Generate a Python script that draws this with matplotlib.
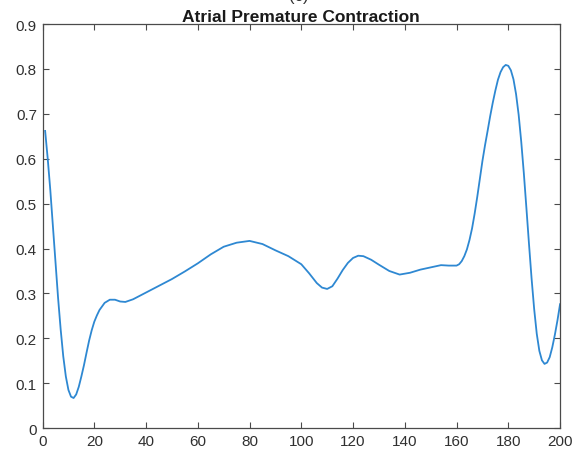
import matplotlib
matplotlib.use('Agg')
import matplotlib.pyplot as plt

# sample index and amplitude of the beat
sample_idx = [1, 2, 3, 4, 5, 6, 7, 8, 9, 10, 11, 12, 13, 14, 15, 16, 17, 18, 19, 20,
              21, 22, 24, 26, 28, 30, 32, 35, 40, 45, 50, 55, 60, 65, 70, 75, 80, 85, 90,
              95, 100, 103, 106, 108, 110, 112, 114, 116, 118, 120, 122, 124, 127, 130,
              134, 138, 142, 146, 150, 154, 157, 160, 161, 162, 163, 164, 165, 166, 167,
              168, 169, 170, 171, 172, 173, 174, 175, 176, 177, 178, 179, 180, 181, 182,
              183, 184, 185, 186, 187, 188, 189, 190, 191, 192, 193, 194, 195, 196, 197,
              198, 199, 200]
amplitude = [0.662, 0.60, 0.53, 0.45, 0.37, 0.29, 0.22, 0.16, 0.115, 0.085, 0.07, 0.067,
             0.075, 0.092, 0.115, 0.14, 0.168, 0.195, 0.218, 0.237,
             0.251, 0.263, 0.279, 0.286, 0.286, 0.282, 0.281, 0.287, 0.302, 0.317, 0.332,
             0.349, 0.367, 0.387, 0.404, 0.413, 0.417, 0.41, 0.396,
             0.383, 0.365, 0.345, 0.323, 0.313, 0.310, 0.316, 0.333, 0.352, 0.368, 0.379,
             0.384, 0.383, 0.375, 0.364,
             0.350, 0.342, 0.346, 0.353, 0.358, 0.363, 0.362, 0.362, 0.365, 0.372, 0.383,
             0.398, 0.419, 0.445, 0.478,
             0.515, 0.555, 0.595, 0.630, 0.662, 0.695, 0.725, 0.752, 0.776, 0.793, 0.804,
             0.809, 0.807, 0.797, 0.777,
             0.744, 0.698, 0.638, 0.568, 0.490, 0.410, 0.333, 0.265, 0.210, 0.172, 0.151,
             0.143, 0.146, 0.158, 0.180,
             0.208, 0.240, 0.276]

x_ticks = list(range(0, 201, 20))
y_ticks = [0, 0.1, 0.2, 0.3, 0.4, 0.5, 0.6, 0.7, 0.8, 0.9]
y_labels = ['0', '0.1', '0.2', '0.3', '0.4', '0.5', '0.6', '0.7', '0.8', '0.9']

plt.rcParams['font.family'] = ['Liberation Sans', 'DejaVu Sans']

fig = plt.figure(figsize=(5.75, 4.56), dpi=100)
ax = fig.add_axes([0.074, 0.059, 0.900, 0.886])

ax.plot(sample_idx, amplitude, color='#2e88d2', linewidth=1.3)

ax.set_xlim(0, 200)
ax.set_ylim(0, 0.9)
ax.set_xticks(x_ticks)
ax.set_yticks(y_ticks)
ax.set_yticklabels(y_labels)

axis_color = '#4a4a4a'
for side in ['top', 'bottom', 'left', 'right']:
    ax.spines[side].set_color(axis_color)
    ax.spines[side].set_linewidth(0.9)
ax.tick_params(direction='in', length=4, width=0.8, colors=axis_color,
               labelcolor='#303030', labelsize=11,
               top=True, right=True)
ax.tick_params(axis='x', pad=4)
ax.tick_params(axis='y', pad=4)

ax.set_title('Atrial Premature Contraction', fontsize=12.5, fontweight='bold',
             color='#1a1a1a', pad=2)
fig.text(0.52, 1.008, '(c)', ha='center', va='center', fontsize=12, color='#303030')

plt.savefig('out.png', dpi=100)
plt.close()
